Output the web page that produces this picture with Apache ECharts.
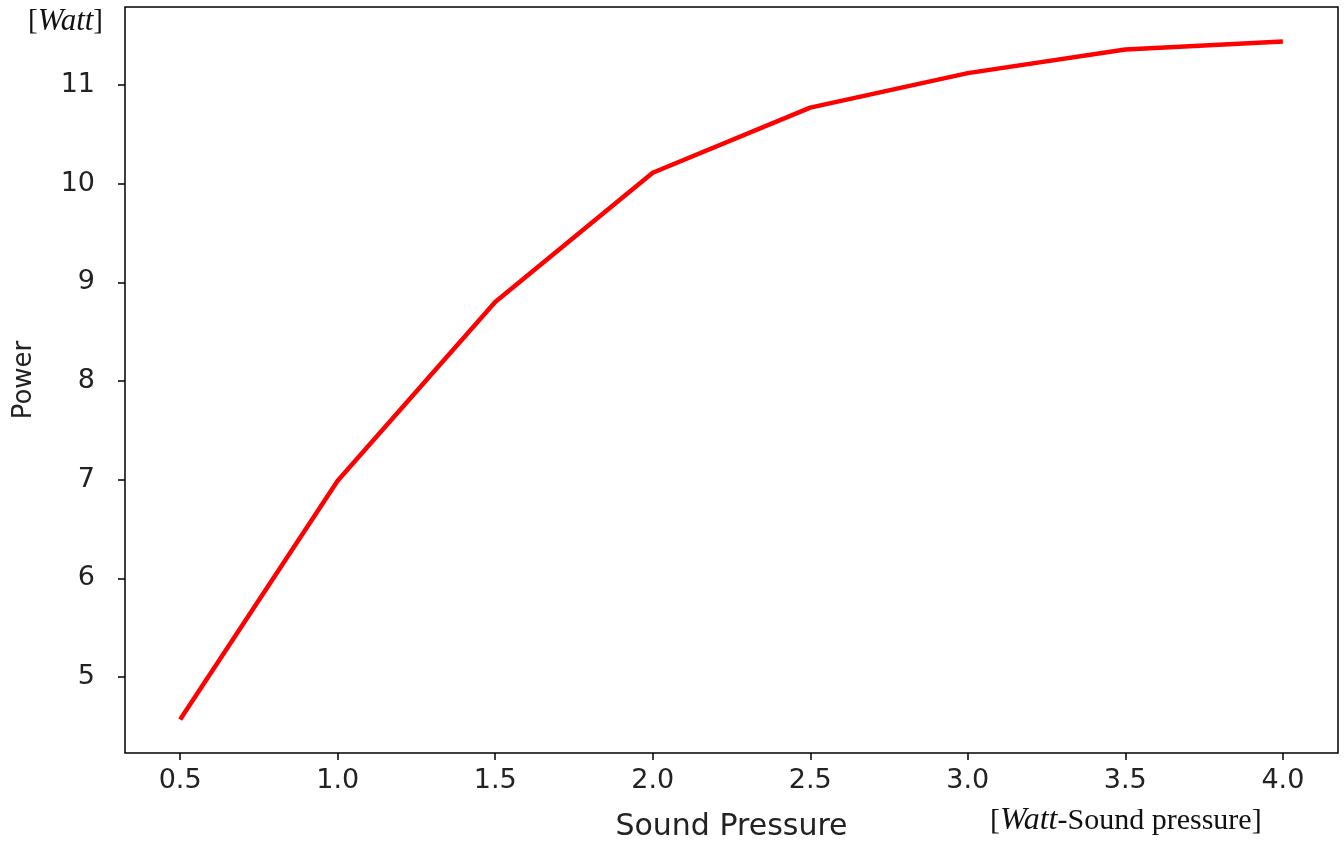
<!DOCTYPE html>
<html>
<head>
<meta charset="utf-8">
<script src="https://cdn.jsdelivr.net/npm/echarts@6/dist/echarts.min.js"></script>
<style>
html,body{margin:0;padding:0;background:#fff;}
#chart{width:1344px;height:849px;}
</style>
</head>
<body>
<div id="chart"></div>
<script>
const soundPressure = [0.5, 1.0, 1.5, 2.0, 2.5, 3.0, 3.5, 4.0];
const power = [4.57, 6.99, 8.80, 10.11, 10.77, 11.12, 11.36, 11.44];
const xTicks = [0.5, 1.0, 1.5, 2.0, 2.5, 3.0, 3.5, 4.0];
const yTicks = [5, 6, 7, 8, 9, 10, 11];
const xName = 'Sound Pressure';
const yName = 'Power';

const seriesData = soundPressure.map((x, i) => [x, power[i]]);
const chart = echarts.init(document.getElementById('chart'));
const labelFont = 'DejaVu Sans';
chart.setOption({
  backgroundColor: '#fff',
  animation: false,
  grid: {
    left: 125, right: 6, top: 7, bottom: 96,
    containLabel: false, outerBoundsMode: 'none',
    show: true, borderColor: '#000', borderWidth: 1.5, backgroundColor: 'transparent'
  },
  xAxis: {
    type: 'value',
    min: 0.325, max: 4.175,
    name: xName, nameLocation: 'middle', nameGap: 59,
    nameTextStyle: {fontFamily: labelFont, fontSize: 30, color: '#222'},
    axisLine: {show: false},
    splitLine: {show: false},
    axisTick: {show: true, length: 7, inside: false, customValues: xTicks, lineStyle: {color: '#000', width: 1.5}},
    axisLabel: {customValues: xTicks, margin: 14, fontFamily: labelFont, fontSize: 27, color: '#222',
      formatter: v => v.toFixed(1)}
  },
  yAxis: {
    type: 'value',
    min: 4.23, max: 11.79,
    name: yName, nameLocation: 'middle', nameGap: 88, nameRotate: 90,
    nameTextStyle: {fontFamily: labelFont, fontSize: 26, color: '#222'},
    axisLine: {show: false},
    splitLine: {show: false},
    axisTick: {show: true, length: 7, inside: false, customValues: yTicks, lineStyle: {color: '#000', width: 1.5}},
    axisLabel: {customValues: yTicks, margin: 30, fontFamily: labelFont, fontSize: 27, color: '#222',
      formatter: v => String(Math.round(v))}
  },
  series: [{
    type: 'line',
    data: seriesData,
    showSymbol: false,
    smooth: false,
    lineStyle: {color: '#ff0000', width: 4.5},
    itemStyle: {color: '#ff0000'}
  }],
  graphic: [
    {
      type: 'text', left: 28, top: 6,
      style: {
        text: '[{i|Watt}]',
        font: '29px "Liberation Serif"', fill: '#111',
        rich: {i: {fontFamily: 'Liberation Serif', fontStyle: 'italic', fontSize: 31, fill: '#111'}}
      }
    },
    {
      type: 'text', left: 990, top: 805,
      style: {
        text: '[{i|Watt}-Sound pressure]',
        font: '30px "Liberation Serif"', fill: '#111',
        rich: {i: {fontFamily: 'Liberation Serif', fontStyle: 'italic', fontSize: 32, fill: '#111'}}
      }
    }
  ]
});
</script>
</body>
</html>
